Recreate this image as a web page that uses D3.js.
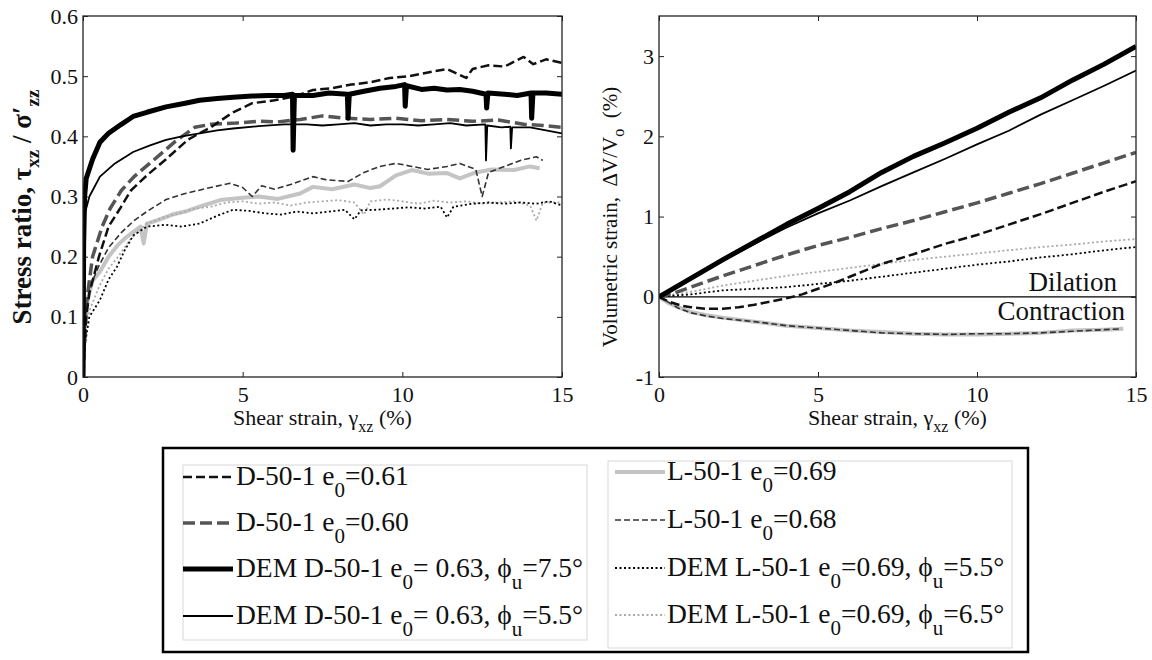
<!DOCTYPE html>
<html>
<head>
<meta charset="utf-8">
<script src="https://cdn.jsdelivr.net/npm/d3@7"></script>
<style>
  body { margin: 0; background: #fff; }
  svg { display: block; }
</style>
</head>
<body>
<div id="chart"></div>
<script>
// Data -------------------------------------------------------------------------------------------------------------
const strainTicks = [0, 5, 10, 15];
const stressTicks = [0, 0.1, 0.2, 0.3, 0.4, 0.5, 0.6];
const volTicks = [-1, 0, 1, 2, 3];

// stress ratio vs shear strain (%)
const stressD061 = [[0,0],[0.1,0.1],[0.2,0.14],[0.5,0.2],[0.8,0.25],[1.16,0.28],[1.5,0.31],[2,0.335],[2.6,0.362],
  [3.3,0.395],[4,0.415],[4.7,0.44],[5.3,0.455],[6,0.46],[6.6,0.466],[7.2,0.477],[7.8,0.48],[8.4,0.486],[9,0.49],
  [9.6,0.497],[10.2,0.5],[10.8,0.506],[11.4,0.512],[12,0.497],[12.2,0.512],[12.7,0.518],[13.2,0.516],[13.8,0.532],
  [14.1,0.52],[14.5,0.528],[15,0.522]];
const stressD060 = [[0,0],[0.1,0.12],[0.3,0.2],[0.6,0.25],[0.85,0.28],[1.2,0.31],[1.6,0.333],[2.2,0.36],[2.9,0.392],
  [3.5,0.415],[4,0.42],[4.8,0.422],[5.5,0.425],[6.1,0.424],[6.8,0.428],[7.5,0.434],[8.2,0.43],[9,0.428],[9.8,0.43],
  [10.6,0.426],[11.4,0.428],[12.2,0.425],[13,0.427],[13.8,0.42],[14.4,0.418],[15,0.415]];
const stressDemD75 = [[0,0],[0.02,0.22],[0.05,0.3],[0.1,0.33],[0.3,0.362],[0.53,0.39],[0.8,0.405],[1.2,0.42],
  [1.57,0.433],[2,0.44],[2.6,0.449],[3.2,0.455],[3.65,0.46],[4.2,0.463],[4.7,0.465],[5.3,0.467],[5.8,0.468],
  [6.3,0.468],[6.56,0.47],[6.58,0.377],[6.62,0.468],[7.2,0.468],[7.7,0.472],[8.28,0.47],[8.3,0.43],[8.34,0.47],
  [8.8,0.475],[9.3,0.48],[9.8,0.483],[10.07,0.486],[10.09,0.45],[10.13,0.484],[10.6,0.478],[11,0.48],[11.4,0.477],
  [11.8,0.478],[12.2,0.475],[12.62,0.47],[12.64,0.447],[12.68,0.472],[13.2,0.47],[13.6,0.468],[14.03,0.472],
  [14.05,0.43],[14.09,0.472],[14.5,0.472],[15,0.47]];
const stressDemD55 = [[0,0],[0.02,0.2],[0.05,0.27],[0.2,0.3],[0.53,0.333],[1,0.355],[1.57,0.374],[2.1,0.385],
  [2.6,0.394],[3.1,0.4],[3.65,0.405],[4.2,0.41],[4.7,0.413],[5.5,0.417],[6.3,0.42],[7,0.42],[7.5,0.418],[8,0.42],
  [8.5,0.422],[9,0.418],[9.5,0.42],[10,0.42],[10.5,0.418],[11,0.42],[11.5,0.422],[12,0.418],[12.6,0.42],[12.62,0.36],
  [12.66,0.418],[13.1,0.415],[13.38,0.416],[13.4,0.38],[13.44,0.415],[14,0.415],[14.5,0.41],[15,0.405]];
const stressL069 = [[0,0],[0.05,0.08],[0.15,0.13],[0.3,0.16],[0.53,0.175],[0.8,0.2],[1.1,0.22],[1.37,0.233],
  [1.8,0.25],[1.9,0.222],[2,0.255],[2.3,0.26],[2.8,0.27],[3.2,0.275],[3.65,0.283],[4.3,0.294],[5,0.298],[5.5,0.3],
  [6.1,0.296],[6.8,0.305],[7.2,0.316],[7.8,0.312],[8.5,0.32],[9,0.314],[9.3,0.317],[9.8,0.335],[10.3,0.344],
  [10.8,0.338],[11.4,0.339],[11.8,0.33],[12.3,0.34],[12.8,0.345],[13.5,0.344],[14,0.35],[14.3,0.347]];
const stressL068 = [[0,0],[0.05,0.09],[0.15,0.13],[0.3,0.16],[0.5,0.185],[0.8,0.215],[1.2,0.24],[1.6,0.26],
  [2,0.275],[2.6,0.295],[3.2,0.305],[3.6,0.31],[4,0.315],[4.6,0.322],[5,0.315],[5.3,0.3],[5.6,0.318],[6,0.312],
  [6.5,0.32],[7.2,0.333],[7.6,0.328],[8.3,0.325],[8.8,0.34],[9.3,0.35],[9.8,0.355],[10.3,0.35],[10.8,0.345],
  [11.4,0.35],[11.8,0.355],[12.3,0.345],[12.5,0.3],[12.7,0.34],[13.2,0.35],[13.7,0.36],[14.2,0.366],[14.4,0.36]];
const stressDemL55 = [[0,0],[0.05,0.05],[0.2,0.1],[0.53,0.128],[0.8,0.162],[1.06,0.183],[1.3,0.21],[1.57,0.235],
  [2,0.25],[2.6,0.253],[3.1,0.25],[3.65,0.255],[4.2,0.268],[4.7,0.278],[5.2,0.276],[5.7,0.272],[6.2,0.27],
  [6.7,0.275],[7.2,0.272],[7.7,0.275],[8.2,0.278],[8.5,0.262],[8.7,0.277],[9.2,0.278],[9.7,0.28],[10.2,0.282],
  [10.7,0.28],[11.2,0.283],[11.4,0.265],[11.6,0.283],[12.2,0.288],[12.7,0.29],[13.2,0.288],[13.7,0.29],[14.2,0.288],
  [14.6,0.292],[15,0.285]];
const stressDemL65 = [[0,0],[0.05,0.06],[0.2,0.11],[0.5,0.15],[0.8,0.18],[1.1,0.2],[1.5,0.23],[2,0.255],[2.5,0.265],
  [3,0.272],[3.5,0.28],[4,0.283],[4.5,0.29],[5,0.292],[5.5,0.288],[6,0.29],[6.5,0.285],[7,0.29],[7.5,0.292],
  [8,0.294],[8.5,0.29],[8.8,0.27],[9,0.292],[9.5,0.295],[10,0.292],[10.5,0.288],[11,0.293],[11.5,0.29],[12,0.292],
  [12.5,0.288],[13,0.29],[13.5,0.292],[14,0.285],[14.2,0.26],[14.4,0.29],[15,0.29]];

// volumetric strain (%) vs shear strain (%)
const volD061 = [[0,0],[0.3,-0.06],[0.7,-0.11],[1,-0.13],[1.5,-0.15],[2,-0.15],[2.5,-0.13],[3,-0.1],[3.5,-0.06],
  [4,-0.02],[4.5,0.03],[5,0.1],[5.5,0.17],[6,0.25],[6.5,0.33],[7,0.41],[8,0.53],[9,0.66],[10,0.77],[11,0.9],
  [12,1.03],[13,1.17],[14,1.31],[15,1.44]];
const volD060 = [[0,0],[0.5,0.05],[1,0.12],[2,0.26],[3,0.39],[4,0.52],[5,0.64],[6,0.74],[7,0.85],[8,0.95],
  [9,1.06],[10,1.17],[11,1.29],[12,1.41],[13,1.54],[14,1.67],[15,1.8]];
const volDemD75 = [[0,0],[1,0.23],[2,0.46],[3,0.68],[4,0.9],[5,1.1],[6,1.31],[7,1.55],[8,1.75],[9,1.92],[10,2.1],
  [11,2.3],[12,2.48],[13,2.7],[14,2.9],[15,3.12]];
const volDemD55 = [[0,0],[1,0.22],[2,0.45],[3,0.66],[4,0.86],[5,1.04],[6,1.2],[7,1.38],[8,1.55],[9,1.72],[10,1.9],
  [11,2.07],[12,2.27],[13,2.45],[14,2.63],[15,2.82]];
const volL069 = [[0,0],[0.3,-0.08],[0.6,-0.13],[1,-0.19],[1.5,-0.23],[2,-0.26],[3,-0.31],[4,-0.36],[5,-0.39],
  [6,-0.42],[7,-0.44],[8,-0.46],[9,-0.47],[10,-0.47],[11,-0.46],[12,-0.45],[13,-0.42],[14,-0.41],[14.6,-0.4]];
const volL068 = [[0,0],[0.3,-0.07],[0.6,-0.14],[1,-0.2],[1.5,-0.24],[2,-0.27],[3,-0.31],[4,-0.36],[5,-0.39],
  [6,-0.42],[7,-0.45],[8,-0.46],[9,-0.47],[10,-0.46],[11,-0.46],[12,-0.45],[13,-0.43],[14,-0.41],[14.5,-0.4]];
const volDemL55 = [[0,0],[1,0.03],[2,0.08],[3,0.1],[4,0.12],[5,0.16],[6,0.2],[7,0.25],[8,0.3],[9,0.35],[10,0.4],
  [11,0.44],[12,0.49],[13,0.53],[14,0.58],[15,0.62]];
const volDemL65 = [[0,0],[1,0.06],[2,0.14],[3,0.2],[4,0.26],[5,0.31],[6,0.36],[7,0.41],[8,0.46],[9,0.5],[10,0.54],
  [11,0.58],[12,0.62],[13,0.65],[14,0.69],[15,0.72]];

// Series labels ("_{..}" marks a subscript)
const seriesLabels = [
  "D-50-1 e_{0}=0.61",
  "D-50-1 e_{0}=0.60",
  "DEM D-50-1 e_{0}= 0.63, \u03d5_{u}=7.5\u00b0",
  "DEM D-50-1 e_{0}= 0.63, \u03d5_{u}=5.5\u00b0",
  "L-50-1 e_{0}=0.69",
  "L-50-1 e_{0}=0.68",
  "DEM L-50-1 e_{0}=0.69, \u03d5_{u}=5.5\u00b0",
  "DEM L-50-1 e_{0}=0.69, \u03d5_{u}=6.5\u00b0"
];
const stressSeries = [stressD061, stressD060, stressDemD75, stressDemD55, stressL069, stressL068, stressDemL55, stressDemL65];
const volSeries = [volD061, volD060, volDemD75, volDemD55, volL069, volL068, volDemL55, volDemL65];

// Styles (same order as the labels)
const seriesStyles = [
  { color: "#111", width: 2.5, dash: "9,4" },
  { color: "#555", width: 3.5, dash: "12,5" },
  { color: "#000", width: 5, dash: null },
  { color: "#000", width: 1.8, dash: null },
  { color: "#c4c4c4", width: 4, dash: null },
  { color: "#333", width: 1.6, dash: "6,3" },
  { color: "#000", width: 1.8, dash: "2,2.5" },
  { color: "#aaa", width: 1.8, dash: "2,2.5" }
];
// draw order: back to front
const drawOrder = [4, 7, 5, 6, 1, 0, 3, 2];

// Canvas ------------------------------------------------------------------------------------------------------------
const canvasWidth = 1152;
const canvasHeight = 660;
const fontFamily = "'Liberation Serif', 'Times New Roman', serif";
const plotTop = 16;
const plotBottom = 377;
const tickFont = 22;

const svg = d3.select("#chart")
  .append("svg")
  .attr("width", canvasWidth)
  .attr("height", canvasHeight)
  .style("font-family", fontFamily);

// writes "abc_{sub}def" into a text node as tspans
function richText(sel, str, subSize, subShift) {
  const parts = str.split(/(_\{[^}]*\})/).filter(p => p.length);
  let shifted = false;
  parts.forEach(function(p) {
    if (p.startsWith("_{")) {
      sel.append("tspan").text(p.slice(2, -1))
        .style("font-size", subSize + "px")
        .attr("dy", subShift);
      shifted = true;
    } else {
      const t = sel.append("tspan").text(p);
      if (shifted) t.attr("dy", -subShift);
      shifted = false;
    }
  });
}

function styleAxis(g) {
  g.select(".domain").remove();
  g.selectAll("line").style("stroke", "#222").style("stroke-width", 1);
  g.selectAll("text").style("font-size", tickFont + "px").style("fill", "#111").style("font-family", fontFamily);
}

function drawPanel(left, right, yDomain, yTicks, series, id) {
  const x = d3.scaleLinear().domain([0, 15]).range([left, right]);
  const y = d3.scaleLinear().domain(yDomain).range([plotBottom, plotTop]);
  const panel = svg.append("g");

  panel.append("clipPath").attr("id", "clip-" + id)
    .append("rect")
    .attr("x", left).attr("y", plotTop)
    .attr("width", right - left).attr("height", plotBottom - plotTop);

  // axes, ticks pointing inwards on all four sides
  panel.append("g").attr("transform", "translate(0," + plotBottom + ")")
    .call(d3.axisBottom(x).tickValues(strainTicks).tickSize(-5).tickSizeOuter(0).tickPadding(9).tickFormat(d => String(d)))
    .call(styleAxis);
  panel.append("g").attr("transform", "translate(0," + plotTop + ")")
    .call(d3.axisTop(x).tickValues(strainTicks).tickSize(-5).tickSizeOuter(0).tickFormat(""))
    .call(styleAxis);
  panel.append("g").attr("transform", "translate(" + left + ",0)")
    .call(d3.axisLeft(y).tickValues(yTicks).tickSize(-5).tickSizeOuter(0).tickPadding(5).tickFormat(d => String(d)))
    .call(styleAxis);
  panel.append("g").attr("transform", "translate(" + right + ",0)")
    .call(d3.axisRight(y).tickValues(yTicks).tickSize(-5).tickSizeOuter(0).tickFormat(""))
    .call(styleAxis);

  const line = d3.line().x(d => x(d[0])).y(d => y(d[1]));
  const lines = panel.append("g").attr("clip-path", "url(#clip-" + id + ")");

  if (id === "vol") {
    lines.append("line")
      .attr("x1", x(0)).attr("x2", x(15))
      .attr("y1", y(0)).attr("y2", y(0))
      .style("stroke", "#000").style("stroke-width", 1.2);
  }

  drawOrder.forEach(function(i) {
    const s = seriesStyles[i];
    lines.append("path")
      .datum(series[i])
      .attr("d", line)
      .style("fill", "none")
      .style("stroke", s.color)
      .style("stroke-width", s.width)
      .style("stroke-dasharray", s.dash)
      .style("stroke-linejoin", "round");
  });

  // frame
  panel.append("rect")
    .attr("x", left).attr("y", plotTop)
    .attr("width", right - left).attr("height", plotBottom - plotTop)
    .style("fill", "none").style("stroke", "#222").style("stroke-width", 1.3);

  // x title
  const xt = panel.append("text")
    .attr("x", (left + right) / 2).attr("y", 425)
    .style("text-anchor", "middle")
    .style("font-size", "22px")
    .style("fill", "#111");
  richText(xt, "Shear strain, \u03b3_{xz} (%)", 16, 7);

  return { x: x, y: y, panel: panel };
}

// Left panel: stress ratio ------------------------------------------------------------------------------------------
const leftPanel = drawPanel(83, 562, [0, 0.6], stressTicks, stressSeries, "stress");
const leftTitle = leftPanel.panel.append("text")
  .attr("transform", "translate(31," + 207 + ") rotate(-90)")
  .style("text-anchor", "middle")
  .style("font-size", "27px")
  .style("font-weight", "bold")
  .style("fill", "#111");
richText(leftTitle, "Stress ratio, \u03c4_{xz} / \u03c3\u2032_{zz}", 19, 8);

// Right panel: volumetric strain ------------------------------------------------------------------------------------
const rightPanel = drawPanel(659, 1136, [-1, 3.5], volTicks, volSeries, "vol");
const rightTitle = rightPanel.panel.append("text")
  .attr("transform", "translate(617," + 217 + ") rotate(-90)")
  .style("text-anchor", "middle")
  .style("font-size", "21px")
  .style("white-space", "pre")
  .style("fill", "#111");
richText(rightTitle, "Volumetric strain,  \u0394V/V_{o}  (%)", 16, 7);

rightPanel.panel.append("text")
  .attr("x", 1117).attr("y", 291)
  .style("text-anchor", "end").style("font-size", "27px").style("fill", "#111")
  .text("Dilation");
rightPanel.panel.append("text")
  .attr("x", 1125).attr("y", 320)
  .style("text-anchor", "end").style("font-size", "27px").style("fill", "#111")
  .text("Contraction");

// Legend ------------------------------------------------------------------------------------------------------------
const legend = svg.append("g");
legend.append("rect")
  .attr("x", 163).attr("y", 448).attr("width", 865).attr("height", 204)
  .style("fill", "#fff").style("stroke", "#000").style("stroke-width", 2.5);

const legendBoxes = [
  { x: 183, y: 465, w: 404, h: 175, lineX: 183, textX: 236, rows: [477, 523, 569, 616], items: [0, 1, 2, 3] },
  { x: 608, y: 461, w: 404, h: 187, lineX: 615, textX: 667, rows: [472, 520, 568, 615], items: [4, 5, 6, 7] }
];
legendBoxes.forEach(function(b) {
  legend.append("rect")
    .attr("x", b.x).attr("y", b.y).attr("width", b.w).attr("height", b.h)
    .style("fill", "none").style("stroke", "#d8d8d8").style("stroke-width", 1);
  b.items.forEach(function(i, k) {
    const s = seriesStyles[i];
    legend.append("line")
      .attr("x1", b.lineX).attr("x2", b.lineX + 50)
      .attr("y1", b.rows[k]).attr("y2", b.rows[k])
      .style("stroke", s.color).style("stroke-width", s.width)
      .style("stroke-dasharray", s.dash);
    const t = legend.append("text")
      .attr("x", b.textX).attr("y", b.rows[k] + 8)
      .style("font-size", "27.5px")
      .style("white-space", "pre")
      .style("fill", "#111");
    richText(t, seriesLabels[i], 21, 12);
  });
});
</script>
</body>
</html>
